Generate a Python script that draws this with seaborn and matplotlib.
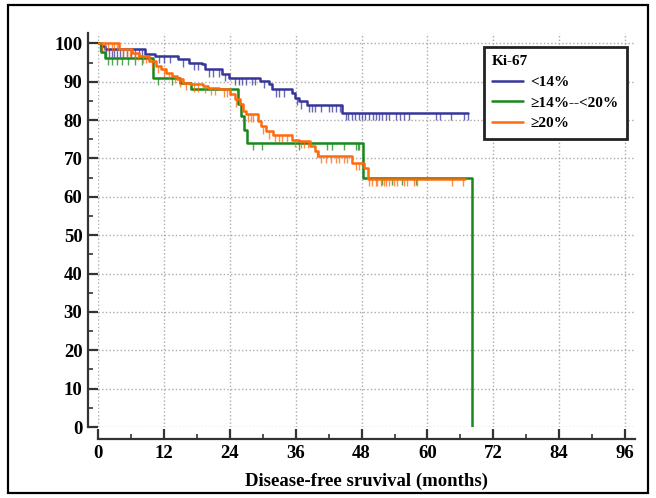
import numpy as np
import pandas as pd
import matplotlib
matplotlib.use('Agg')
import matplotlib.pyplot as plt
from matplotlib.patches import Rectangle
import seaborn as sns

# Kaplan-Meier steps (months, % disease-free)
blue_t = [0, 0.5, 1.2, 8.5, 10.4, 14.6, 16.5, 18.9, 19.5, 22.5, 23.8, 29.5, 31.1, 31.7, 35.3, 35.9, 36.6, 38.0, 44.5, 67.4]
blue_s = [100, 99.4, 98.4, 97.1, 96.7, 95.8, 95.0, 94.5, 93.2, 92.0, 91.0, 90.2, 89.3, 88.0, 87.1, 85.8, 84.9, 84.0, 81.8, 81.8]

green_t = [0, 0.6, 1.2, 10.0, 15.0, 17.0, 25.5, 26.0, 26.6, 27.2, 48.2, 68.1]
green_s = [100, 97.8, 96.2, 91.0, 89.6, 88.0, 84.1, 81.0, 77.5, 74.1, 64.9, 0]

orange_t = [0, 3.9, 6.2, 7.5, 9.3, 10.6, 11.5, 12.4, 13.4, 14.3, 15.4, 16.7, 19.1, 20.0, 22.1, 24.0, 24.9,
            25.8, 26.4, 27.0, 29.1, 29.7, 30.6, 31.9, 35.3, 36.6, 38.6, 39.5, 40.1, 46.3, 48.5, 49.1, 66.8]
orange_s = [100, 98.4, 97.5, 96.7, 95.4, 94.1, 93.2, 92.3, 91.5, 90.6, 89.7, 89.3, 88.9, 88.4, 88.0, 86.7, 85.4,
            84.1, 82.3, 81.5, 79.7, 78.4, 77.1, 76.2, 74.9, 74.5, 73.2, 71.9, 70.6, 68.9, 67.5, 64.7, 64.7]

# censored observations (months)
blue_cens = [0.3, 0.8, 1.5, 2.0, 2.5, 3.0, 3.4, 4.0, 4.6, 5.2, 6.0, 6.8, 7.4, 8.0, 9.2, 11.2, 12.0, 13.2,
             15.5, 17.5, 18.3, 20.2, 21.0, 22.0, 23.2, 25.0, 25.6, 26.2, 27.0, 28.0, 28.6, 30.2, 32.4, 33.0,
             33.8, 36.2, 37.0, 38.4, 38.9, 39.5, 40.6, 42.0, 42.6, 43.4, 44.0, 45.1, 45.6, 46.3, 46.8, 47.5,
             48.0, 48.7, 49.3, 50.0, 50.6, 51.2, 51.8, 52.4, 53.0, 54.2, 55.0, 55.8, 56.7, 61.5, 62.2, 64.3,
             66.7, 67.3]
green_cens = [1.8, 2.6, 3.5, 4.4, 5.5, 6.8, 8.0, 11.0, 13.5, 28.3, 29.8, 36.6, 41.7, 42.6, 44.8, 47.0,
              47.3, 47.6, 51.7, 53.6, 55.4, 58.0]
orange_cens = [0.8, 1.3, 1.9, 2.5, 3.0, 3.4, 4.5, 5.2, 5.8, 6.7, 7.2, 8.2, 8.8, 9.8, 11.0, 12.0, 13.0,
               14.0, 15.0, 16.0, 17.5, 18.2, 19.5, 20.5, 21.3, 23.0, 23.5, 25.2, 27.3, 27.8, 28.3, 30.0,
               31.2, 32.3, 33.0, 33.6, 34.4, 35.8, 37.0, 37.6, 38.2, 39.9, 40.6, 41.5, 42.4, 43.3, 43.9,
               44.8, 45.3, 47.0, 47.5, 49.4, 49.9, 50.6, 50.8, 51.6, 52.1, 52.5, 53.0, 53.9, 54.5, 55.8,
               56.3, 57.6, 58.1, 64.4, 66.4]

groups = ['<14%', '\u226514%--<20%', '\u226520%']
colors = ['#35359a', '#17881a', '#ff6a0a']

sns.set_style('ticks')
plt.rcParams['font.family'] = ['Liberation Serif', 'DejaVu Serif']
plt.rcParams['font.weight'] = 'bold'
plt.rcParams['text.color'] = 'black'
plt.rcParams['axes.labelcolor'] = 'black'
plt.rcParams['xtick.labelcolor'] = 'black'
plt.rcParams['ytick.labelcolor'] = 'black'

W, H = 656, 498
fig = plt.figure(figsize=(W / 100, H / 100), dpi=100)
ax = fig.add_axes([98 / W, 1 - 427 / H, (635 - 98) / W, (427 - 33) / H])

series = [(blue_t, blue_s, blue_cens), (green_t, green_s, green_cens), (orange_t, orange_s, orange_cens)]
for (t, s, cens), name, col in zip(series, groups, colors):
    df = pd.DataFrame({'t': t, 's': s})
    sns.lineplot(data=df, x='t', y='s', drawstyle='steps-post', color=col, lw=1.8,
                 sort=False, estimator=None, label=name, ax=ax)
    idx = np.searchsorted(t, cens, side='right') - 1
    cy = np.asarray(s)[idx]
    ax.vlines(cens, cy - 1.9, cy, color=col, lw=1, alpha=0.75)

ax.set_xlim(0, 97.8)
ax.set_ylim(0, 102.7)
ax.set_xticks(np.arange(0, 97, 12))
ax.set_xticks(np.arange(0, 97, 6), minor=True)
ax.set_yticks(np.arange(0, 101, 10))
ax.set_yticks(np.arange(0, 101, 5), minor=True)
ax.grid(True, which='major', ls=':', color='#aaaaaa', lw=1)
ax.set_xlabel('Disease-free sruvival (months)', fontsize=13.5, fontweight='bold', labelpad=8)
ax.set_ylabel('')

sns.despine(ax=ax, offset={'left': 7.2, 'bottom': 8.6})
for sp in ['left', 'bottom']:
    ax.spines[sp].set_linewidth(1.6)
    ax.spines[sp].set_color('#333333')
ax.tick_params(which='major', direction='in', length=7.2, width=1.6, color='#333333',
               labelsize=13.5, pad=4)
ax.tick_params(which='minor', direction='in', length=3.5, width=1.2, color='#333333')
for lab in ax.get_xticklabels() + ax.get_yticklabels():
    lab.set_fontweight('bold')

leg = ax.legend(title='Ki-67', loc='upper right', bbox_to_anchor=((627 - 98) / 537, 1 - (47 - 33) / 394),
                borderaxespad=0, fancybox=False, framealpha=1, edgecolor='#222222',
                prop={'size': 11, 'weight': 'bold'}, title_fontproperties={'size': 11, 'weight': 'bold'},
                handlelength=2.0, handletextpad=0.5, labelspacing=0.45, borderpad=0.55)
leg.get_frame().set_linewidth(2)
leg._legend_box.align = 'left'

fig.patches.append(Rectangle((8 / W, 5 / H), 640 / W, 488 / H, transform=fig.transFigure,
                             fill=False, ec='black', lw=1.6))

fig.savefig('out.png', dpi=100, facecolor='white')
